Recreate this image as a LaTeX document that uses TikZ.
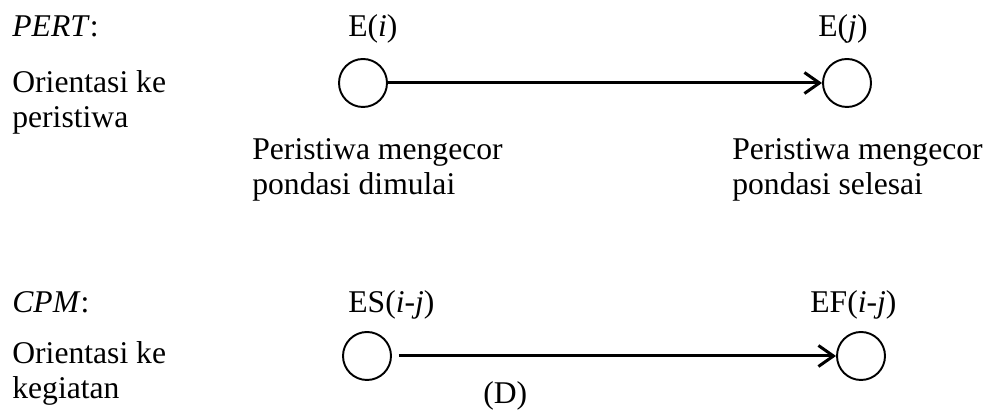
\documentclass[tikz,border=0pt]{standalone}
\usepackage{fontspec}
\setmainfont{Liberation Serif}
\usepackage{tikz}
\usetikzlibrary{positioning,arrows.meta}

\tikzset{
  simpul/.style={circle,draw,line width=1.1pt,minimum size=0.96cm,inner sep=0pt},
  teks/.style={anchor=base west,inner sep=0pt,align=left,
    font=\fontsize{18}{20}\selectfont},
  panah/.style={line width=1.7pt,-{Straight Barb[length=3mm,width=4.2mm,line width=1.7pt]}}
}

\begin{document}
\begin{tikzpicture}
\useasboundingbox (0,0) rectangle (19.8,8.24);
% PERT: orientasi ke peristiwa
\node[teks] (pert) at (0.24,7.5) {\textit{PERT}:};
\node[teks] (orpert) at (0.24,5.68) {Orientasi ke\\peristiwa};
\node[simpul] (ei) at (7.26,6.58) {};
\node[simpul] (ej) at (16.94,6.58) {};
\node[teks] (lei) at (6.96,7.5) {E(\textit{i})};
\node[teks] (lej) at (16.36,7.5) {E(\textit{j})};
\node[teks] (mulai) at (5.04,4.34) {Peristiwa mengecor\\pondasi dimulai};
\node[teks] (selesai) at (14.64,4.34) {Peristiwa mengecor\\pondasi selesai};
\draw[panah] (ei) -- (ej);
% CPM: orientasi ke kegiatan
\node[teks] (cpm) at (0.24,1.98) {\textit{CPM}:};
\node[teks] (orcpm) at (0.24,0.26) {Orientasi ke\\kegiatan};
\node[simpul] (es) at (7.34,1.12) {};
\node[simpul] (ef) at (17.22,1.12) {};
\node[teks] (les) at (6.96,1.98) {ES(\textit{i}-\textit{j})};
\node[teks] (lef) at (16.2,1.98) {EF(\textit{i}-\textit{j})};
\node[teks] (durasi) at (9.66,0.16) {(D)};
\draw[panah,shorten <=0.14cm] (es) -- (ef);
\end{tikzpicture}
\end{document}
